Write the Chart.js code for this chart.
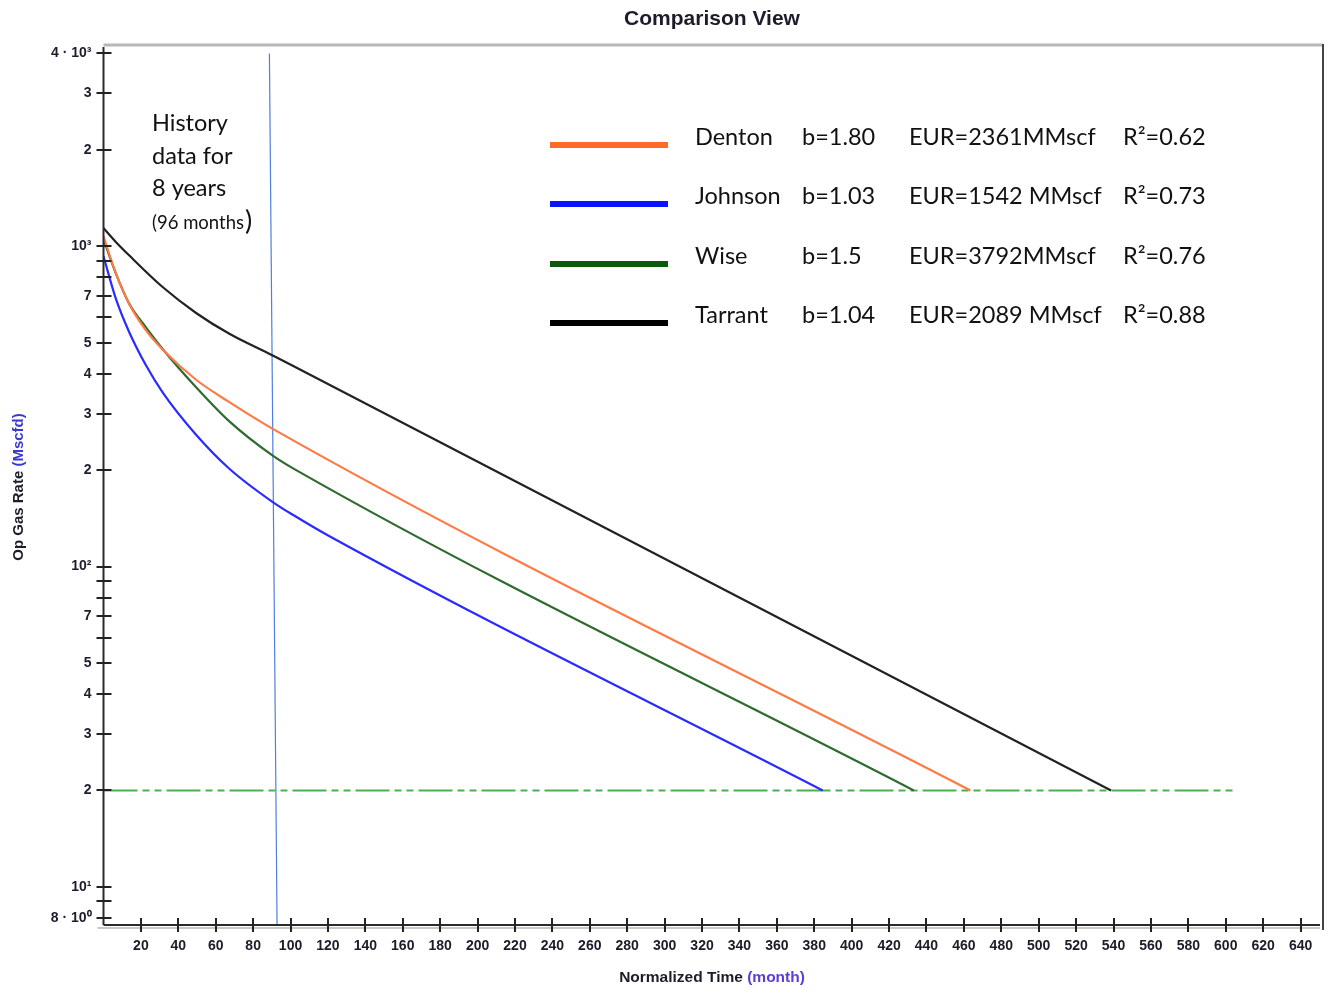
<!DOCTYPE html>
<html>
<head>
<meta charset="utf-8">
<title>Comparison View</title>
<script src="https://cdn.jsdelivr.net/npm/chart.js@4.4.1/dist/chart.umd.min.js"></script>
<style>
  html, body { margin: 0; padding: 0; background: #fff; }
  #wrap { position: relative; width: 1332px; height: 992px; }
</style>
</head>
<body>
<div id="wrap"><canvas id="decline"></canvas></div>
<script>
// forecast curves: month vs gas rate (Mscfd)
const dentonMonths  = [0, 6.6, 13.7, 22.7, 31.6, 49.5, 67.3, 90.5, 463.5];
const dentonRates   = [1074, 823, 662, 546, 476, 383, 326, 269, 20];
const johnsonMonths = [0, 6.6, 13.7, 22.7, 31.6, 49.5, 67.3, 90.5, 103, 120.1, 384.5];
const johnsonRates  = [930, 686, 540, 425, 350, 258, 202, 159, 143, 125, 20];
const wiseMonths    = [0, 6.6, 13.7, 22.7, 31.6, 49.5, 67.3, 90.5, 103, 433.2];
const wiseRates     = [1051, 823, 662, 558, 478, 363, 284, 222, 200, 20];
const tarrantMonths = [0, 6.6, 13.7, 31.6, 49.5, 67.3, 90.5, 103, 538.7];
const tarrantRates  = [1140, 1032, 937, 746, 619, 533, 456, 418, 20];

// economic limit and end of history marker
const limitMonths   = [0, 605.5];
const limitRates    = [20, 20];
const historyMonths = [88.7, 92.8];
const historyRates  = [4000, 7.6];

// legend table
const wellNames = ['Denton', 'Johnson', 'Wise', 'Tarrant'];
const bValues   = ['b=1.80', 'b=1.03', 'b=1.5', 'b=1.04'];
const eurTexts  = ['EUR=2361MMscf', 'EUR=1542 MMscf', 'EUR=3792MMscf', 'EUR=2089 MMscf'];
const r2Texts   = ['R\u00B2=0.62', 'R\u00B2=0.73', 'R\u00B2=0.76', 'R\u00B2=0.88'];
const wellColors  = ['#ff7a45', '#2b2bff', '#2f6b2f', '#222222'];
const swatchColors = ['#ff6a28', '#0a14ff', '#0b5a0b', '#000000'];

// axis ticks
const xTicks = [20, 40, 60, 80, 100, 120, 140, 160, 180, 200, 220, 240, 260, 280, 300, 320,
                340, 360, 380, 400, 420, 440, 460, 480, 500, 520, 540, 560, 580, 600, 620, 640];
const yTicks = [8, 9, 10, 20, 30, 40, 50, 60, 70, 80, 90,
                100, 200, 300, 400, 500, 600, 700, 800, 900,
                1000, 2000, 3000, 4000];
const yTickLabels = ['8 \u00B7 10\u2070', '', '10\u00B9', '2', '3', '4', '5', '', '7', '', '',
                     '10\u00B2', '2', '3', '4', '5', '', '7', '', '',
                     '10\u00B3', '2', '3', '4 \u00B7 10\u00B3'];

function pts(xs, ys) {
  return xs.map((x, i) => ({ x: x, y: ys[i] }));
}

const curves = [
  [dentonMonths, dentonRates],
  [johnsonMonths, johnsonRates],
  [wiseMonths, wiseRates],
  [tarrantMonths, tarrantRates]
];

const datasets = curves.map((c, i) => ({
  label: wellNames[i],
  data: pts(c[0], c[1]),
  borderColor: wellColors[i],
  borderWidth: 2.2,
  pointRadius: 0,
  cubicInterpolationMode: 'monotone',
  fill: false
}));

datasets.push({
  label: 'limit',
  data: pts(limitMonths, limitRates),
  borderColor: '#4caf50',
  borderWidth: 2,
  borderDash: [34, 5, 7, 5, 7, 5],
  pointRadius: 0,
  fill: false
});

datasets.push({
  label: 'history',
  data: pts(historyMonths, historyRates),
  borderColor: '#4f7fe0',
  borderWidth: 1.2,
  pointRadius: 0,
  fill: false
});

function seg(ctx, x1, y1, x2, y2) {
  ctx.beginPath();
  ctx.moveTo(x1, y1);
  ctx.lineTo(x2, y2);
  ctx.stroke();
}

const decor = {
  id: 'decor',
  afterDraw(chart) {
    const ctx = chart.ctx;
    const a = chart.chartArea;
    const xs = chart.scales.x;
    const ys = chart.scales.y;
    ctx.save();

    // frame
    ctx.strokeStyle = '#b8b8b8';
    ctx.lineWidth = 3;
    seg(ctx, a.left, a.top, a.right, a.top);
    ctx.strokeStyle = '#444';
    ctx.lineWidth = 2;
    seg(ctx, a.right, a.top - 1, a.right, a.bottom + 5);

    // axes
    ctx.strokeStyle = '#2a2a2a';
    ctx.lineWidth = 2;
    seg(ctx, a.left, a.top + 2, a.left, a.bottom);
    seg(ctx, a.left, a.bottom, a.right - 3, a.bottom);
    ctx.strokeStyle = '#c8c8c8';
    ctx.lineWidth = 2;
    seg(ctx, a.left - 6, a.bottom + 3, a.right - 3, a.bottom + 3);

    // tick marks crossing the axes
    ctx.strokeStyle = '#222';
    ctx.lineWidth = 2;
    ys.ticks.forEach(t => {
      const y = Math.round(ys.getPixelForValue(t.value));
      seg(ctx, a.left - 7, y, a.left + 8, y);
    });
    xs.ticks.forEach(t => {
      const x = Math.round(xs.getPixelForValue(t.value));
      seg(ctx, x, a.bottom - 7, x, a.bottom + 7);
    });

    // chart title
    ctx.fillStyle = '#1c1c2a';
    ctx.textBaseline = 'middle';
    ctx.textAlign = 'center';
    ctx.font = 'bold 21px "Liberation Sans", Arial, sans-serif';
    ctx.fillText('Comparison View', 712, 19);

    // x axis title, unit in blue
    ctx.font = 'bold 15.5px "Liberation Sans", Arial, sans-serif';
    const xt1 = 'Normalized Time ';
    const xt2 = '(month)';
    const w1 = ctx.measureText(xt1).width;
    const w2 = ctx.measureText(xt2).width;
    let sx = 712 - (w1 + w2) / 2;
    ctx.textAlign = 'left';
    ctx.fillStyle = '#1c1c2a';
    ctx.fillText(xt1, sx, 978);
    ctx.fillStyle = '#5a3fd6';
    ctx.fillText(xt2, sx + w1, 978);

    // y axis title, rotated
    ctx.save();
    ctx.translate(19, 487);
    ctx.rotate(-Math.PI / 2);
    ctx.font = 'bold 15px "Liberation Sans", Arial, sans-serif';
    const yt1 = 'Op Gas Rate ';
    const yt2 = '(Mscfd)';
    const v1 = ctx.measureText(yt1).width;
    const v2 = ctx.measureText(yt2).width;
    sx = -(v1 + v2) / 2;
    ctx.fillStyle = '#1c1c2a';
    ctx.fillText(yt1, sx, 0);
    ctx.fillStyle = '#3a3ad0';
    ctx.fillText(yt2, sx + v1, 0);
    ctx.restore();

    // note on history period
    ctx.fillStyle = '#111';
    ctx.font = '23.5px Lato, "Open Sans", sans-serif';
    ctx.fillText('History', 152, 123);
    ctx.fillText('data for', 152, 156);
    ctx.fillText('8 years', 152, 188);
    ctx.font = '18.5px Lato, "Open Sans", sans-serif';
    const nt = '(96 months';
    ctx.fillText(nt, 152, 223);
    const nw = ctx.measureText(nt).width;
    ctx.font = '27px Lato, "Open Sans", sans-serif';
    ctx.fillText(')', 153 + nw, 221);

    // legend table
    const rowY = [137, 196, 256, 315];
    ctx.font = '23.5px Lato, "Open Sans", sans-serif';
    wellNames.forEach((name, i) => {
      ctx.strokeStyle = swatchColors[i];
      ctx.lineWidth = 6;
      seg(ctx, 550, rowY[i] + 8, 668, rowY[i] + 8);
      ctx.fillStyle = '#111';
      ctx.fillText(name, 695, rowY[i]);
      ctx.fillText(bValues[i], 802, rowY[i]);
      ctx.fillText(eurTexts[i], 909, rowY[i]);
      ctx.fillText(r2Texts[i], 1123, rowY[i]);
    });

    ctx.restore();
  }
};

new Chart(document.getElementById('decline'), {
  type: 'line',
  data: { datasets: datasets },
  plugins: [decor],
  options: {
    responsive: true,
    maintainAspectRatio: false,
    animation: false,
    layout: { padding: { top: 45, right: 9, left: 0, bottom: 0 } },
    plugins: {
      legend: { display: false },
      tooltip: { enabled: false },
      title: { display: false }
    },
    scales: {
      x: {
        type: 'linear',
        min: 0,
        max: 652,
        afterBuildTicks: s => { s.ticks = xTicks.map(v => ({ value: v })); },
        afterFit: s => { s.height = 67; },
        grid: { display: false, drawTicks: false },
        border: { display: false },
        ticks: {
          autoSkip: false,
          maxRotation: 0,
          padding: 13,
          color: '#1c1c2a',
          font: { family: '"Liberation Sans", Arial, sans-serif', size: 14, weight: 'bold' }
        }
      },
      y: {
        type: 'logarithmic',
        min: 7.6,
        max: 4250,
        afterBuildTicks: s => { s.ticks = yTicks.map(v => ({ value: v })); },
        afterFit: s => { s.width = 103.5; },
        grid: { display: false, drawTicks: false },
        border: { display: false },
        ticks: {
          autoSkip: false,
          padding: 12,
          color: '#1c1c2a',
          font: { family: '"Liberation Sans", Arial, sans-serif', size: 14, weight: 'bold' },
          callback: (value, index) => yTickLabels[index]
        }
      }
    }
  }
});
</script>
</body>
</html>
